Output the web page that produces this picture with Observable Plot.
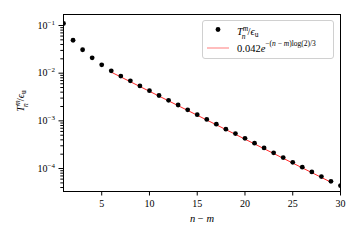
<!DOCTYPE html>
<html><head><meta charset="utf-8">
<script src="https://cdn.jsdelivr.net/npm/d3@7"></script>
<script src="https://cdn.jsdelivr.net/npm/@observablehq/plot@0.6"></script>
<style>body{margin:0;background:#fff} #c{position:relative;width:360px;height:240px}</style>
</head><body><div id="c"></div>
<script>
const nm = [1,2,3,4,5,6,7,8,9,10,11,12,13,14,15,16,17,18,19,20,21,22,23,24,25,26,27,28,29,30];
const ratio = [0.11,0.049,0.031,0.021,0.015,0.0112,0.0087,0.0069,0.0054,0.0043,0.0034,0.0027,0.00215,0.0017,0.00135,0.00107,0.00085,0.00067,0.00054,0.00043,0.00034,0.00027,0.000214,0.00017,0.000135,0.000107,0.000085,0.000068,0.000054,0.000044];
const fitX = [6, 29];
const fitY = [0.0105, 0.0000517];
const xTicks = [5,10,15,20,25,30];
const yMajor = [1e-4,1e-3,1e-2,1e-1];
const yMinor = [];
for (const d of [1e-5,1e-4,1e-3,1e-2,1e-1]) for (let k=2;k<=9;k++){const v=k*d; if(v>=3.3e-5 && v<=0.17) yMinor.push(v);}

const pts = nm.map((x,i)=>({x, y: ratio[i]}));
const fit = fitX.map((x,i)=>({x, y: fitY[i]}));

const chart = Plot.plot({
  width:360, height:240, marginLeft:63, marginRight:20, marginTop:14, marginBottom:49,
  style:{fontFamily:"'Liberation Serif', serif", fontSize:"10px", color:"black", background:"white"},
  x:{domain:[1,30]},
  y:{type:"log", domain:[3.3e-5,0.17]},
  marks:[
    Plot.axisY(yMinor,{tickSize:2.7, tickFormat:()=>"", label:null}),
    Plot.axisY(yMajor,{tickSize:4.5, tickPadding:4, tickFormat:d=>String(Math.round(Math.log10(d))), label:null}),
    Plot.axisX(xTicks,{tickSize:4.5, tickPadding:3.5, label:null}),
    Plot.line(fit,{x:"x", y:"y", stroke:"red", strokeOpacity:0.85, strokeWidth:1}),
    Plot.dot(pts,{x:"x", y:"y", r:2.4, fill:"black", clip:true}),
    Plot.frame({stroke:"black"})
  ]
});
document.getElementById("c").appendChild(chart);
const svg = d3.select(chart);

// superscript y tick labels
svg.selectAll('g[aria-label="y-axis tick label"] text').each(function(){
  const t = d3.select(this); const raw = t.text();
  if (!raw) { t.remove(); return; }
  const e = raw.replace("-","−");
  t.text(null);
  t.append("tspan").text("10");
  t.append("tspan").attr("dy","-4").attr("font-size","7px").text(e);
});

function tnm(sel, big, small) {
  sel.append("tspan").attr("font-style","italic").text("T");
  sel.append("tspan").attr("font-style","italic").attr("font-size",small).attr("dy","-4.5").text("m");
  sel.append("tspan").attr("font-style","italic").attr("font-size",small).attr("dx","-6.5").attr("dy","8.5").text("n");
  sel.append("tspan").attr("dx","2").attr("dy","-4").text("/");
  sel.append("tspan").attr("font-style","italic").text("ϵ");
  sel.append("tspan").attr("font-size",small).attr("dy","2").text("u");
}

// y label
const yl = svg.append("text").attr("transform","translate(24,101) rotate(-90)").attr("text-anchor","middle")
  .attr("font-family","'Liberation Serif', serif").attr("font-size","10.5px");
tnm(yl, "10.5px", "7.5px");

// x label
svg.append("text").attr("x",202).attr("y",222).attr("text-anchor","middle")
  .attr("font-family","'Liberation Serif', serif").attr("font-size","10.5px")
  .html('<tspan font-style="italic">n</tspan> − <tspan font-style="italic">m</tspan>');

// legend
const lg = svg.append("g").attr("font-family","'Liberation Serif', serif").attr("font-size","10.5px").attr("text-anchor","start");
lg.append("rect").attr("x",202.5).attr("y",20.5).attr("width",131).attr("height",38).attr("rx",2.5)
  .attr("fill","white").attr("fill-opacity",0.8).attr("stroke","#d0d0d0");
lg.append("circle").attr("cx",218).attr("cy",29.5).attr("r",2.4).attr("fill","black");
lg.append("line").attr("x1",207).attr("x2",229).attr("y1",48).attr("y2",48).attr("stroke","#ff9a9a").attr("stroke-width",1.3);
const t1 = lg.append("text").attr("x",237).attr("y",35);
tnm(t1, "10.5px", "7.5px");
const t2 = lg.append("text").attr("x",237).attr("y",52);
t2.append("tspan").text("0.042");
t2.append("tspan").attr("font-style","italic").text("e");
t2.append("tspan").attr("font-size","7.5px").attr("dy","-6").html('−(<tspan font-style="italic">n</tspan> − <tspan font-style="italic">m</tspan>)log(2)/3');
</script></body></html>
